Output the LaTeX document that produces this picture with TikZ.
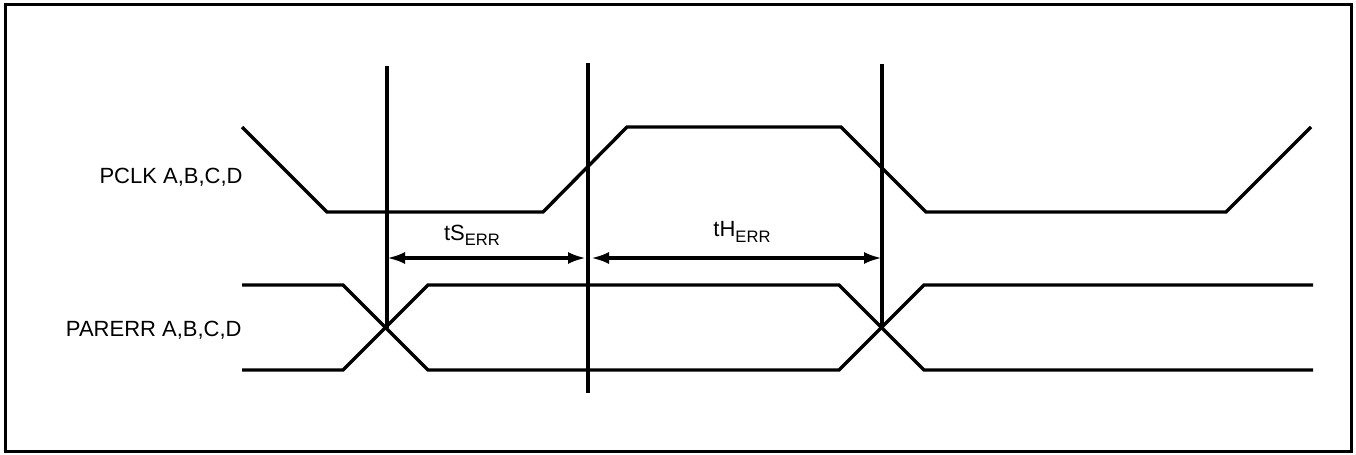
\documentclass[tikz,border=0pt]{standalone}
\usepackage{fontspec}
\setmainfont{Liberation Sans}
\usetikzlibrary{arrows.meta,positioning,calc}

\newcommand{\errsub}{\raisebox{-0.45ex}{\fontsize{8.3}{10}\selectfont ERR}}

\begin{document}
\begin{tikzpicture}[
    x=0.5pt, y=-0.5pt,
    wave/.style={line width=1.7pt, line join=miter},
    marker/.style={line width=1.7pt},
    dim/.style={line width=1.7pt, {Latex[length=9pt,width=6pt]}-{Latex[length=9pt,width=6pt]}},
    sig/.style={anchor=east, inner sep=0pt, font=\fontsize{11}{13}\selectfont},
    lbl/.style={inner sep=0pt, font=\fontsize{11}{13}\selectfont}
]
    \useasboundingbox (0,0) rectangle (1356,455);
    \draw[line width=1.5pt] (5,4) rectangle (1351,451);

    % signal names
    \node[sig] (pclk) at (243,177) {PCLK A,B,C,D};
    \node[sig] (parerr) at (242,330) {PARERR A,B,C,D};

    % PCLK waveform
    \draw[wave] (242,127) -- (327,212) -- (543,212) -- (627,127) -- (841,127)
        -- (926,212) -- (1226,212) -- (1311,127);

    % PARERR waveform
    \draw[wave] (242,285) -- (343,285) -- (428,370) -- (839,370) -- (924,285) -- (1313,285);
    \draw[wave] (242,370) -- (343,370) -- (428,285) -- (839,285) -- (924,370) -- (1313,370);

    % timing markers
    \coordinate (m1top) at (387,66);  \coordinate (m1bot) at (387,328);
    \coordinate (m2top) at (588,63);  \coordinate (m2bot) at (588,393);
    \coordinate (m3top) at (882,64);  \coordinate (m3bot) at (882,328);
    \draw[marker] (m1top) -- (m1bot);
    \draw[marker] (m2top) -- (m2bot);
    \draw[marker] (m3top) -- (m3bot);

    % setup and hold
    \coordinate (s1) at (387,258); \coordinate (s2) at (586,258);
    \coordinate (h1) at (591,258); \coordinate (h2) at (882,258);
    \draw[dim] (s1) -- (s2);
    \draw[dim] (h1) -- (h2);
    \node[lbl] (ts) at (472,235) {tS\errsub};
    \node[lbl] (th) at (742,232) {tH\errsub};
\end{tikzpicture}
\end{document}
